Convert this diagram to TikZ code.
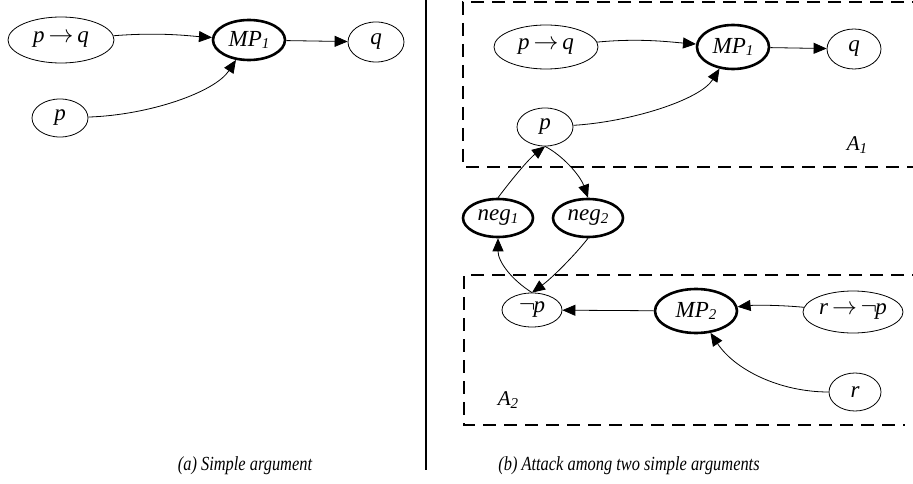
\documentclass[tikz,border=0pt]{standalone}
\usepackage{fontspec}
\setmainfont{Liberation Serif}
\newfontfamily\capfont[FakeStretch=0.82]{Liberation Serif}
\usetikzlibrary{arrows.meta,shapes.geometric}
\newcommand{\sbx}[1]{\raisebox{-2.5pt}{\fontsize{15}{16}\selectfont #1}}
\newcommand{\impl}{\,$\rightarrow$\,}
\newcommand{\nega}{$\neg$\kern-2pt}
\tikzset{
  lbl/.style={font=\itshape\fontsize{23}{26}\selectfont},
  boxlbl/.style={font=\itshape\fontsize{21}{24}\selectfont},
  premnode/.style={ellipse, draw, line width=0.8pt, inner sep=0pt, lbl},
  rulenode/.style={ellipse, draw, line width=2.6pt, inner sep=0pt, lbl},
  conn/.style={line width=0.8pt, -{Triangle[length=13pt,width=11pt]}},
  dbox/.style={line width=1.8pt, dash pattern=on 13pt off 8pt},
  captxt/.style={font=\capfont\itshape\fontsize{20}{24}\selectfont},
}
\begin{document}
\begin{tikzpicture}[x=1pt,y=-1pt]
\useasboundingbox (0,0) rectangle (913,484);
% left panel
\node[premnode, minimum width=106pt, minimum height=46pt] (lpq) at (61,40) {p\impl q};
\node[rulenode, minimum width=72pt, minimum height=40pt] (lmp1) at (249,40) {MP\sbx{1}};
\node[premnode, minimum width=56pt, minimum height=40pt] (lq) at (376,42) {q};
\node[premnode, minimum width=56pt, minimum height=38pt] (lp) at (60,118) {p};
\draw[conn] (lpq) .. controls (160,32) and (190,36) .. (lmp1);
\draw[conn] (lmp1) -- (lq);
\draw[conn] (lp) .. controls (150,115) and (215,92) .. (lmp1);
% divider
\coordinate (dtop) at (426,0);
\coordinate (dbot) at (426,470);
\draw[line width=1.2pt] (dtop) -- (dbot);
% boxes
\draw[dbox] (925,2) -- (463,2) -- (463,167) -- (925,167);
\draw[dbox] (925,275) -- (464,275) -- (464,425) -- (905,425);
% right panel
\node[premnode, minimum width=104pt, minimum height=44pt] (rpq) at (546,47) {p\impl q};
\node[rulenode, minimum width=72pt, minimum height=44pt] (rmp1) at (733,47) {MP\sbx{1}};
\node[premnode, minimum width=54pt, minimum height=40pt] (rq) at (854,49) {q};
\node[premnode, minimum width=56pt, minimum height=38pt] (rp) at (545,127) {p};
\node[boxlbl] (a1) at (857,145) {A\sbx{1}};
\node[rulenode, minimum width=70pt, minimum height=38pt] (neg1) at (498,218) {neg\sbx{1}};
\node[rulenode, minimum width=70pt, minimum height=38pt] (neg2) at (588,218) {neg\sbx{2}};
\node[premnode, minimum width=60pt, minimum height=34pt] (np) at (532,310) {\nega p};
\node[rulenode, minimum width=82pt, minimum height=44pt] (mp2) at (696,311) {MP\sbx{2}};
\node[premnode, minimum width=100pt, minimum height=42pt] (rnp) at (853,312) {r\impl\nega p};
\node[premnode, minimum width=52pt, minimum height=38pt] (r) at (855,392) {r};
\node[boxlbl] (a2) at (508,400) {A\sbx{2}};
\draw[conn] (rpq) .. controls (640,38) and (670,42) .. (rmp1);
\draw[conn] (rmp1) -- (rq);
\draw[conn] (rp) .. controls (630,122) and (700,100) .. (rmp1);
\draw[conn] (neg1.north) .. controls (515,175) and (530,158) .. (rp.south);
\draw[conn] (rp.south) .. controls (562,155) and (580,175) .. (neg2.north);
\draw[conn] (neg2.south) .. controls (575,255) and (552,278) .. (np.north);
\draw[conn] (np.north) .. controls (512,280) and (498,262) .. (neg1.south);
\draw[conn] (mp2) -- (np);
\draw[conn] (rnp) .. controls (780,305) and (755,305) .. (mp2);
\draw[conn] (r) .. controls (780,392) and (735,370) .. (mp2);
% captions
\node[captxt] (capa) at (245,466) {(a) Simple argument};
\node[captxt] (capb) at (629,466) {(b) Attack among two simple arguments};
\end{tikzpicture}
\end{document}
